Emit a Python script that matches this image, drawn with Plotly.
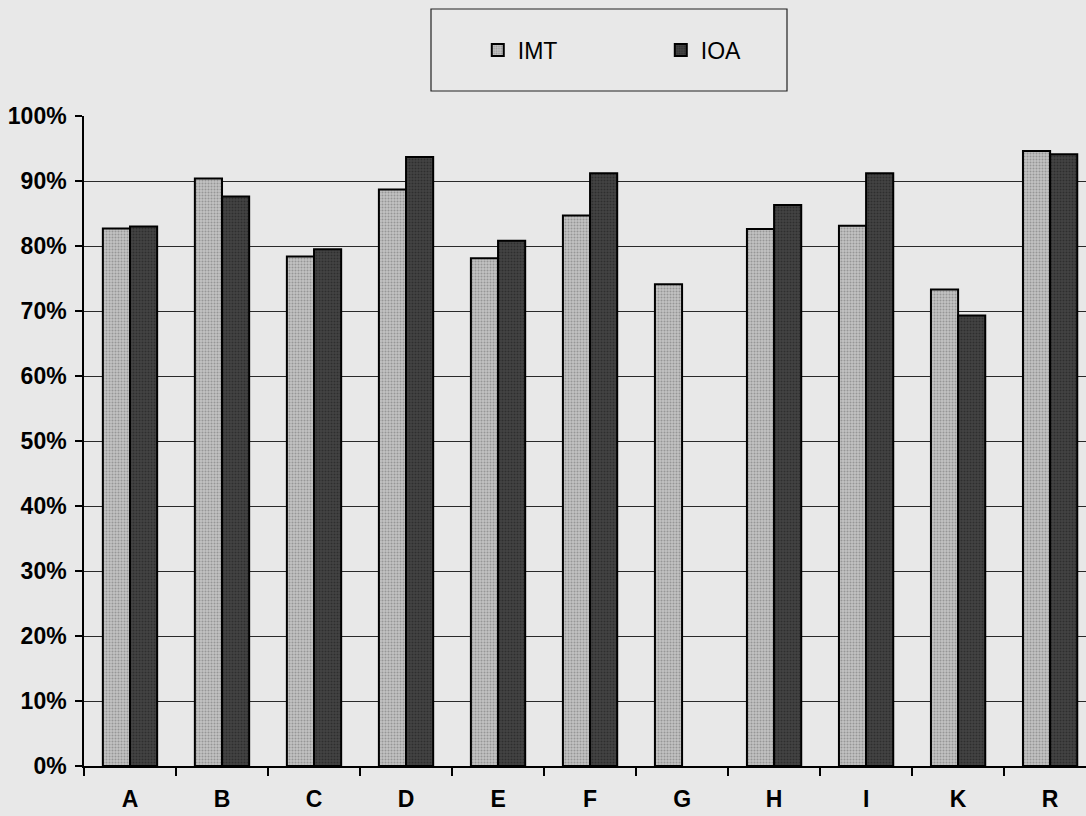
import plotly.graph_objects as go

# Share of correct answers per group, two methods compared
groups = ["A", "B", "C", "D", "E", "F", "G", "H", "I", "K", "R"]
imt = [82.7, 90.4, 78.4, 88.7, 78.1, 84.7, 74.1, 82.6, 83.1, 73.3, 94.6]
ioa = [83.0, 87.6, 79.5, 93.7, 80.8, 91.2, None, 86.3, 91.2, 69.3, 94.1]
y_ticks = [0, 10, 20, 30, 40, 50, 60, 70, 80, 90, 100]
y_tick_text = [f"{v}%" for v in y_ticks]

BG = "#e8e8e8"
FONT = "Liberation Sans, Arial, sans-serif"

fig = go.Figure()
fig.add_trace(go.Bar(
    name="IMT", x=groups, y=imt,
    marker=dict(color="#b0b0b0", line=dict(color="#000000", width=2),
                pattern=dict(shape=".", fgcolor="#6a6a6a", bgcolor="#c2c2c2",
                             size=3, solidity=0.35)),
))
fig.add_trace(go.Bar(
    name="IOA", x=groups, y=ioa,
    marker=dict(color="#353535", line=dict(color="#000000", width=2),
                pattern=dict(shape=".", fgcolor="#181818", bgcolor="#444444",
                             size=3, solidity=0.35)),
))

fig.update_layout(
    width=1086, height=816,
    margin=dict(l=84, r=0, t=116, b=50),
    paper_bgcolor=BG, plot_bgcolor=BG,
    barmode="group", bargap=0.41, bargroupgap=0,
    font=dict(family=FONT, color="#000000"),
    showlegend=True,
    legend=dict(
        orientation="h", x=0.393, y=(766 - 50) / 650, xanchor="left", yanchor="middle",
        bgcolor="rgba(0,0,0,0)", borderwidth=0,
        font=dict(size=23, family=FONT),
        entrywidth=138, entrywidthmode="pixels",
    ),
    shapes=[dict(type="rect", xref="paper", yref="paper",
                 x0=(431 - 84) / 1002, x1=(787 - 84) / 1002,
                 y0=(766 - 91) / 650, y1=(766 - 9) / 650,
                 line=dict(color="#222222", width=1.2), fillcolor="rgba(0,0,0,0)")],
)

fig.update_xaxes(
    range=[-0.5, 10.39],
    showline=True, linecolor="#000000", linewidth=1.5,
    ticks="outside", tickson="boundaries", ticklen=8, tickcolor="#000000", tickwidth=1.5,
    tickfont=dict(size=23, family=FONT, weight="bold"),
    ticklabelstandoff=12,
    showgrid=False,
)
fig.update_yaxes(
    range=[0, 100], tickvals=y_ticks, ticktext=y_tick_text,
    showline=True, linecolor="#000000", linewidth=1.5,
    ticks="outside", ticklen=7, tickcolor="#000000", tickwidth=1.5,
    tickfont=dict(size=23, family=FONT, weight="bold"),
    ticklabelstandoff=4,
    showgrid=True, gridcolor="#2a2a2a", gridwidth=1.2,
    zeroline=False,
)

fig.write_html("out.html")
